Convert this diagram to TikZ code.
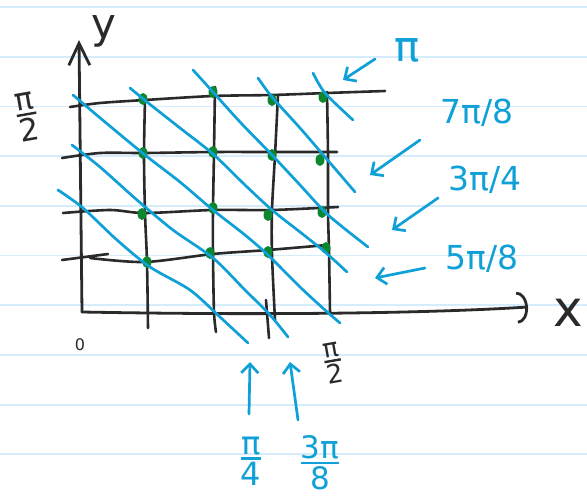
\documentclass[tikz,border=0pt]{standalone}
\usepackage{amsmath}
\usepackage{fontspec}
\setmainfont{DejaVu Sans}
\usetikzlibrary{arrows.meta}

\definecolor{inkblue}{RGB}{14,160,214}
\definecolor{inkgreen}{RGB}{12,135,48}
\definecolor{ink}{RGB}{42,42,42}
\definecolor{paper}{RGB}{212,236,251}

\newcommand{\hfrac}[2]{$\genfrac{}{}{2.4pt}{}{\mbox{#1}}{\mbox{#2}}$}

\begin{document}
\begin{tikzpicture}
  [x=1pt, y=-1pt, line cap=round, line join=round,
   axis/.style={ink, line width=2.8pt},
   gridln/.style={ink, line width=2.6pt},
   levelln/.style={inkblue, line width=2.7pt},
   pointer/.style={inkblue, line width=2.7pt, -{Straight Barb[length=9pt, width=17pt]}},
   lbl/.style={inner sep=0pt, ink},
   blbl/.style={inner sep=0pt, inkblue, font=\fontsize{33}{36}\selectfont}]

  % Hoja rayada
  \fill[white] (0,0) rectangle (587,501);
  \useasboundingbox (0,0) rectangle (587,501);
  \foreach \k in {0,...,9}
    \draw[paper, line width=1.8pt] (0,{7+49.7*\k}) -- (587,{7+49.7*\k});

  % Rejilla
  \draw[gridln] plot[smooth] coordinates {(70,107) (100,103) (145,100) (213,96) (272,95) (327,93) (385,91)};
  \draw[gridln] plot[smooth] coordinates {(62,158) (100,153) (145,153) (213,152) (272,152) (337,152)};
  \draw[gridln] plot[smooth] coordinates {(63,213) (110,210) (145,213) (213,210) (272,210) (338,207)};
  \draw[gridln] (62,260) -- (108,254);
  \draw[gridln] plot[smooth] coordinates {(90,258) (145,262) (213,254) (268,250) (327,245)};
  \draw[gridln] plot[smooth] coordinates {(145,100) (144,155) (145,213) (147,262) (148,328)};
  \draw[gridln] plot[smooth] coordinates {(215,87) (214,152) (213,210) (213,255) (214,312) (216,332)};
  \draw[gridln] plot[smooth] coordinates {(278,95) (275,155) (272,210) (272,255) (275,320)};
  \draw[gridln] (266,300) -- (269,338);
  \draw[gridln] plot[smooth] coordinates {(327,92) (328,155) (328,212) (329,250) (330,313)};

  % Ejes
  \coordinate (o) at (82,312);
  \coordinate (ytip) at (79,40);
  \coordinate (xtip) at (528,307);
  \draw[axis, -{Straight Barb[length=22pt, width=21pt]}] (o) -- (ytip);
  \draw[axis, -{Arc Barb[length=11pt, width=32pt]}] (o) .. controls (300,316) and (450,312) .. (xtip);

  % Puntos de la rejilla
  \foreach \px/\py in {143/99, 213/92, 272/100, 323/97,
                       143/153, 213/152, 272/155, 320/160,
                       142/214, 213/208, 268/215, 322/212,
                       147/262, 210/253, 268/252, 326/248}
    \fill[inkgreen] (\px,\py) ellipse [x radius=4.5, y radius=6];

  % Rectas x+y = c
  \draw[levelln] plot[smooth] coordinates {(58,190) (83,208) (117,240) (150,267) (190,290) (220,317) (248,343)};
  \draw[levelln] plot[smooth] coordinates {(72,145) (100,167) (137,200) (173,230) (213,258) (245,290) (270,315) (288,337)};
  \draw[levelln] plot[smooth] coordinates {(73,95) (105,122) (145,155) (180,182) (213,210) (245,235) (268,255) (300,287) (325,310) (340,323)};
  \draw[levelln] plot[smooth] coordinates {(130,88) (147,102) (180,128) (213,154) (245,185) (272,210) (300,232) (325,252) (347,272)};
  \draw[levelln] plot[smooth] coordinates {(193,70) (213,92) (240,122) (272,155) (300,185) (325,212) (345,229) (368,247)};
  \draw[levelln] plot[smooth] coordinates {(258,78) (272,97) (300,128) (325,157) (355,192)};
  \draw[levelln] plot[smooth] coordinates {(313,73) (325,93) (353,120)};

  % Etiquetas de los ejes
  \node[lbl, font=\fontsize{42}{44}\selectfont] (ylab) at (104,31) {y};
  \node[lbl, font=\fontsize{50}{52}\selectfont] (xlab) at (568,313) {x};
  \node[lbl, font=\fontsize{16}{18}\selectfont] (zero) at (80,345) {0};
  \node[lbl, font=\fontsize{31}{33}\selectfont, rotate=10] (ypi2) at (27,117) {\hfrac{π}{2}};
  \node[lbl, font=\fontsize{26}{28}\selectfont, rotate=10] (xpi2) at (333,363) {\hfrac{π}{2}};

  % Etiquetas de las rectas
  \node[blbl, font=\fontsize{42}{44}\selectfont] (l8) at (407,50) {π};
  \node[blbl] (l7) at (477,113) {7π/8};
  \node[blbl] (l6) at (485,180) {3π/4};
  \node[blbl] (l5) at (482,259) {5π/8};
  \node[blbl, font=\fontsize{32}{34}\selectfont] (l2) at (251,461) {\hfrac{π}{4}};
  \node[blbl, font=\fontsize{31}{33}\selectfont] (l3) at (320,463) {\hfrac{3π}{8}};

  % Flechas
  \coordinate (t8) at (343,80);
  \coordinate (t7) at (370,175);
  \coordinate (t6) at (392,230);
  \coordinate (t5) at (375,278);
  \coordinate (t2) at (250,362);
  \coordinate (t3) at (290,362);
  \draw[pointer] ([shift={(-32,9)}]l8.center) -- (t8);
  \draw[pointer] ([shift={(-57,27)}]l7.center) -- (t7);
  \draw[pointer] ([shift={(-47,18)}]l6.center) -- (t6);
  \draw[pointer] ([shift={(-57,9)}]l5.center) -- (t5);
  \draw[pointer] ([shift={(-2,-47)}]l2.center) -- (t2);
  \draw[pointer] ([shift={(-22,-43)}]l3.center) -- (t3);
\end{tikzpicture}
\end{document}
